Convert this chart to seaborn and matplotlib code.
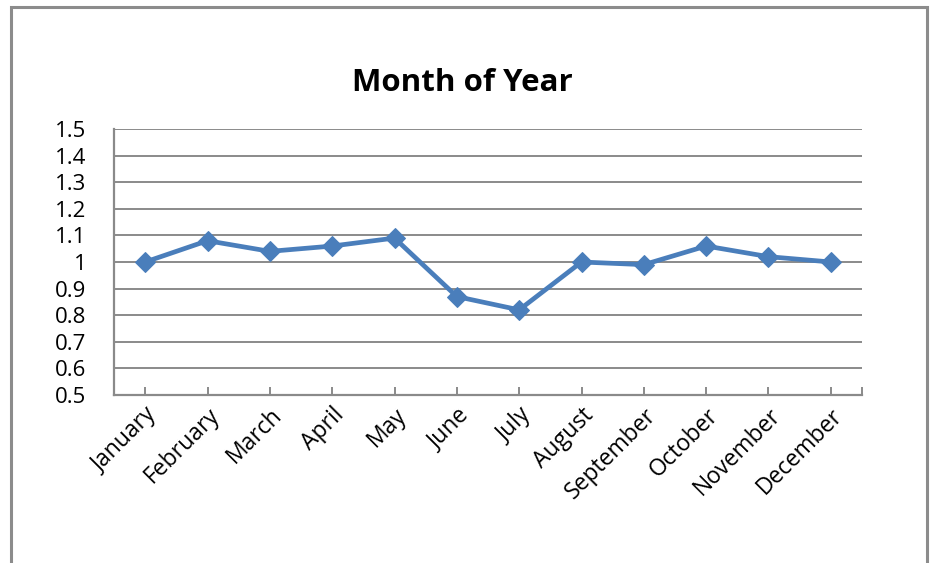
import matplotlib
matplotlib.use("Agg")
import matplotlib.pyplot as plt
import seaborn as sns
import pandas as pd
from matplotlib.patches import Rectangle

months = ["January", "February", "March", "April", "May", "June", "July",
          "August", "September", "October", "November", "December"]
values = [1.00, 1.08, 1.04, 1.06, 1.09, 0.87, 0.82, 1.00, 0.99, 1.06, 1.02, 1.00]
y_ticks = [0.5, 0.6, 0.7, 0.8, 0.9, 1.0, 1.1, 1.2, 1.3, 1.4, 1.5]
y_labels = ["0.5", "0.6", "0.7", "0.8", "0.9", "1", "1.1", "1.2", "1.3", "1.4", "1.5"]
title = "Month of Year"

sns.set_theme(style="white")
plt.rcParams["font.family"] = ["Open Sans", "DejaVu Sans"]

df = pd.DataFrame({"idx": list(range(len(months))), "value": values})

fig = plt.figure(figsize=(9.32, 5.63), dpi=100)
fig.patch.set_facecolor("white")
ax = fig.add_axes([114/932, 1-395/563, (862-114)/932, (395-129)/563])

# outer chart border (bottom edge falls outside the image)
fig.add_artist(Rectangle((11/932, -0.05), (927-11)/932, 1.05 - 7/563,
                         transform=fig.transFigure, fill=False,
                         edgecolor="#8c8c8c", linewidth=2.2, zorder=0))

grid_color = "#8a8a8a"
for y in y_ticks[1:]:
    ax.axhline(y, color=grid_color, linewidth=1.4, zorder=1)

sns.lineplot(data=df, x="idx", y="value", ax=ax, color="#4a7ebb",
             linewidth=3.4, marker="D", markersize=10,
             markeredgecolor="#4a7ebb", zorder=3)

ax.set_xlim(-0.5, 11.5)
ax.set_ylim(0.5, 1.5)
ax.set_yticks(y_ticks)
ax.set_yticklabels(y_labels)
ax.set_xticks(range(len(months)))
ax.set_xticklabels(months, rotation=45, ha="right", rotation_mode="anchor")
ax.set_xticks([11.5], minor=True)
ax.set_xlabel("")
ax.set_ylabel("")

for s in ["top", "right"]:
    ax.spines[s].set_visible(False)
for s in ["left", "bottom"]:
    ax.spines[s].set_color(grid_color)
    ax.spines[s].set_linewidth(1.6)

ax.tick_params(axis="x", which="both", direction="in", length=6, width=1.4,
               color=grid_color, bottom=True, labelsize=16.5, pad=6,
               labelcolor="black")
ax.tick_params(axis="y", length=0, pad=20, labelsize=16, labelcolor="black")
for lbl in ax.get_yticklabels():
    lbl.set_horizontalalignment("right")

fig.text(462/932, 1-83/563, title, ha="center", va="center",
         fontsize=22.5, fontweight="bold", color="black")

fig.savefig("out.png", dpi=100, facecolor="white")
